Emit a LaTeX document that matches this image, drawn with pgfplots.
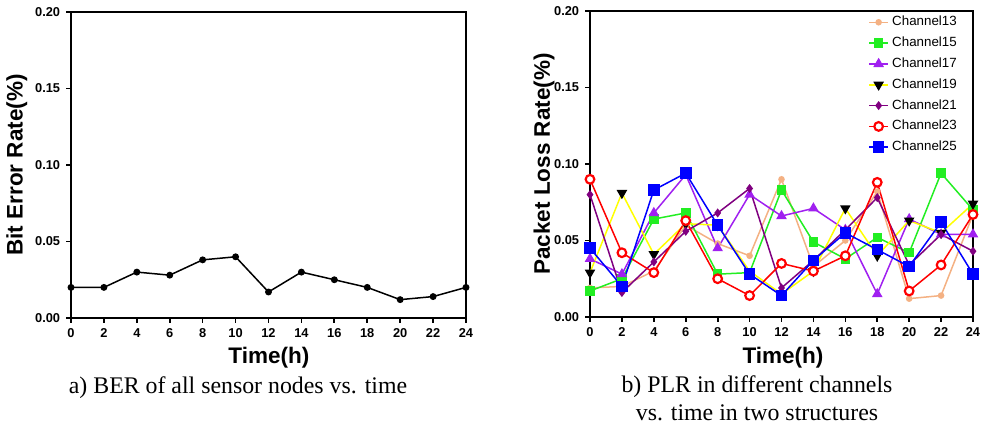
\documentclass[border=0pt]{standalone}
\usepackage{fontspec}
\setmainfont{Liberation Serif}
\newfontfamily\arial{Liberation Sans}
\usepackage{pgfplots}
\pgfplotsset{compat=1.18}

\definecolor{c13}{HTML}{F4B183}
\definecolor{c15}{HTML}{22EE22}
\definecolor{c17}{HTML}{A020F0}
\definecolor{c19}{HTML}{FFFF00}
\definecolor{c21}{HTML}{800080}
\definecolor{c23}{HTML}{FF0000}
\definecolor{c25}{HTML}{0000FF}

\pgfplotsset{
  panel/.style={
    scale only axis, clip=false,
    xmin=0, xmax=24, ymin=0, ymax=0.2,
    xtick={0,2,...,24}, ytick={0,0.05,0.1,0.15,0.2},
    tick align=outside, xtick pos=left, ytick pos=left,
    major tick length=3pt,
    every tick/.style={black, line width=1pt},
    axis line style={line width=1.2pt},
    /pgf/number format/assume math mode=true,
    tick label style={font=\arial\bfseries\fontsize{7.7}{8}\selectfont},
    yticklabel style={/pgf/number format/fixed,
      /pgf/number format/fixed zerofill,
      /pgf/number format/precision=2},
    label style={font=\arial\bfseries\fontsize{13.5}{15}\selectfont},
  },
  ser/.style={line width=0.9pt},
}

\begin{document}
\begin{tikzpicture}
\useasboundingbox (0,0) rectangle (592.2pt,256.8pt);

% a) BER
\begin{axis}[panel,
  at={(42.6pt,66pt)}, anchor=south west,
  width=237pt, height=183.6pt,
  xlabel={Time(h)}, ylabel={Bit Error Rate(\%)},
  xlabel style={at={(axis description cs:0.501,-0.131)}, anchor=center},
  ylabel style={at={(axis description cs:-0.137,0.5)}, anchor=center, rotate=0},
]
\addplot[ser, black, mark=*, mark size=1.6pt] coordinates {
  (0,0.020) (2,0.020) (4,0.030) (6,0.028) (8,0.038) (10,0.040) (12,0.017)
  (14,0.030) (16,0.025) (18,0.020) (20,0.012) (22,0.014) (24,0.020)};
\end{axis}

% b) PLR
\begin{axis}[panel,
  at={(354pt,66.6pt)}, anchor=south west,
  width=229.8pt, height=183.6pt,
  xlabel={Time(h)}, ylabel={Packet Loss Rate(\%)},
  xlabel style={at={(axis description cs:0.504,-0.134)}, anchor=center},
  ylabel style={at={(axis description cs:-0.12,0.5)}, anchor=center},
  legend style={at={(axis description cs:0.726,0.995)}, anchor=north west,
    draw=none, fill=none, font=\arial\fontsize{8}{9}\selectfont,
    row sep=1.2pt, inner sep=0pt},
  legend cell align=left,
  legend image code/.code={
    \draw[mark repeat=2, mark phase=2] plot coordinates {(0pt,0pt) (5.7pt,0pt) (11.4pt,0pt)};},
]
\addplot[ser, c13, mark=*, mark size=1.5pt] coordinates {
  (0,0.019) (2,0.020) (4,0.030) (6,0.060) (8,0.048) (10,0.040) (12,0.090)
  (14,0.033) (16,0.050) (18,0.082) (20,0.012) (22,0.014) (24,0.067)};
\addplot[ser, c15, mark=square*, mark size=2.4pt] coordinates {
  (0,0.017) (2,0.025) (4,0.064) (6,0.068) (8,0.028) (10,0.029) (12,0.083)
  (14,0.049) (16,0.038) (18,0.052) (20,0.042) (22,0.094) (24,0.070)};
\addplot[ser, c17, mark=triangle*, mark size=2.8pt] coordinates {
  (0,0.038) (2,0.028) (4,0.068) (6,0.093) (8,0.045) (10,0.080) (12,0.066)
  (14,0.071) (16,0.057) (18,0.015) (20,0.064) (22,0.054) (24,0.054)};
\addplot[ser, c19, mark=triangle*, mark size=2.8pt,
  mark options={rotate=180, draw=black, fill=black}] coordinates {
  (0,0.029) (2,0.081) (4,0.041) (6,0.061) (8,0.060) (10,0.030) (12,0.015)
  (14,0.030) (16,0.071) (18,0.040) (20,0.063) (22,0.055) (24,0.074)};
\addplot[ser, c21, mark=diamond*, mark size=2pt] coordinates {
  (0,0.080) (2,0.016) (4,0.036) (6,0.056) (8,0.068) (10,0.084) (12,0.019)
  (14,0.037) (16,0.057) (18,0.078) (20,0.034) (22,0.054) (24,0.043)};
\addplot[ser, c23, mark=*, mark size=2.6pt,
  mark options={fill=white, line width=1.3pt}] coordinates {
  (0,0.090) (2,0.042) (4,0.029) (6,0.063) (8,0.025) (10,0.014) (12,0.035)
  (14,0.030) (16,0.040) (18,0.088) (20,0.017) (22,0.034) (24,0.067)};
\addplot[ser, c25, mark=square*, mark size=3pt] coordinates {
  (0,0.045) (2,0.020) (4,0.083) (6,0.094) (8,0.060) (10,0.028) (12,0.014)
  (14,0.037) (16,0.055) (18,0.044) (20,0.033) (22,0.062) (24,0.028)};
\legend{Channel13,Channel15,Channel17,Channel19,Channel21,Channel23,Channel25}
\end{axis}

% captions
\node[font=\fontsize{14.3}{16}\selectfont] at (142.8pt,24pt) {a) BER of all sensor nodes vs. time};
\node[font=\fontsize{14.3}{16}\selectfont] at (454.2pt,24.6pt) {b) PLR in different channels};
\node[font=\fontsize{14.3}{16}\selectfont] at (454.2pt,9pt) {vs. time in two structures};
\end{tikzpicture}
\end{document}
